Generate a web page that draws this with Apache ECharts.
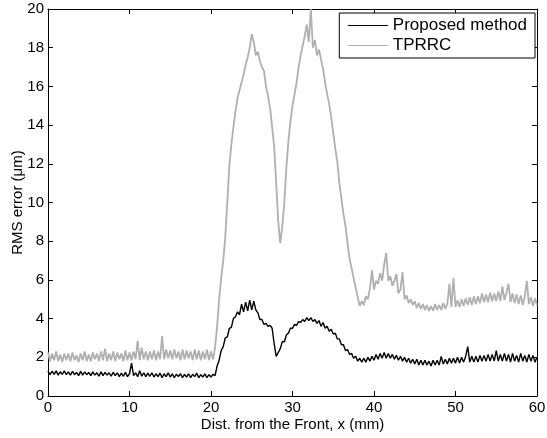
<!DOCTYPE html>
<html>
<head>
<meta charset="utf-8">
<script src="https://cdn.jsdelivr.net/npm/echarts@6/dist/echarts.min.js"></script>
<style>
html,body{margin:0;padding:0;background:#fff;}
#chart{width:547px;height:438px;}
</style>
</head>
<body>
<div id="chart"></div>
<script>
// Sampling grid along x (mm)
const xStart = 0;
const xStep = 0.25;

// RMS error (um), Proposed method at x = 0, 0.25, ..., 60
const proposed = [
1.3,1.1,1.28,1.12,1.3,1.08,1.25,1.12,1.3,1.1,
1.25,1.08,1.28,1.1,1.22,1.05,1.27,1.08,1.25,1.1,
1.22,1.05,1.25,1.08,1.2,1.02,1.25,1.05,1.22,1.08,
1.2,1.02,1.22,1.05,1.2,1.0,1.18,1.02,1.22,1.0,
1.15,1.7,1.05,1.2,1.0,1.3,1.02,1.2,1.0,1.18,
1.02,1.2,0.98,1.15,1.0,1.18,0.95,1.15,1.0,1.2,
0.98,1.15,0.95,1.12,1.0,1.15,0.95,1.12,0.98,1.15,
0.95,1.12,1.0,1.18,0.95,1.1,0.98,1.15,0.95,1.1,
0.98,1.12,1.05,1.55,1.85,2.35,2.55,3.0,3.05,3.5,
3.55,4.0,4.1,4.35,4.2,4.75,4.35,4.85,4.4,4.95,
4.45,4.9,4.45,4.3,3.95,3.95,3.7,3.75,3.6,3.65,
3.5,2.7,2.05,2.25,2.45,2.8,2.8,3.15,3.25,3.5,
3.5,3.7,3.65,3.85,3.8,3.95,3.85,4.05,3.9,4.05,
3.85,3.95,3.75,3.9,3.6,3.8,3.5,3.6,3.35,3.45,
3.2,3.25,2.95,2.95,2.65,2.65,2.35,2.4,2.15,2.2,
1.95,2.05,1.8,1.95,1.75,1.95,1.75,2.0,1.8,2.05,
1.85,2.15,1.9,2.2,1.95,2.25,1.95,2.2,1.95,2.15,
1.9,2.1,1.85,2.05,1.8,2.0,1.75,1.95,1.7,1.9,
1.65,1.9,1.6,1.85,1.6,1.85,1.6,1.8,1.55,1.85,
1.6,1.85,1.6,2.05,1.65,1.9,1.65,1.95,1.7,1.95,
1.7,2.0,1.7,2.0,1.75,2.05,2.55,1.75,2.05,1.75,
2.05,1.75,2.1,1.8,2.1,1.8,2.15,1.8,2.15,1.8,
2.35,1.8,2.15,1.8,2.2,1.8,2.15,1.75,2.2,1.8,
2.1,1.75,2.2,1.8,2.1,1.75,2.15,1.8,2.1,1.75,
2.0
];

// RMS error (um), TPRRC at x = 0, 0.25, ..., 60
const tprrc = [
2.25,1.8,2.2,1.85,2.3,1.8,2.15,1.75,2.2,1.85,
2.2,1.8,2.25,1.85,2.1,1.75,2.2,1.85,2.3,1.8,
2.15,1.8,2.25,1.9,2.2,1.8,2.3,1.85,2.45,1.8,
2.2,1.85,2.3,1.8,2.25,1.9,2.2,1.8,2.35,1.85,
2.25,1.85,2.3,1.9,2.85,1.85,2.5,1.9,2.3,1.85,
2.3,1.9,2.35,1.85,2.3,1.9,3.1,1.9,2.4,1.95,
2.35,1.9,2.4,1.95,2.3,1.85,2.4,1.9,2.35,1.95,
2.3,1.85,2.4,1.9,2.35,1.85,2.3,1.9,2.4,1.85,
2.3,1.9,2.5,3.6,5.0,6.1,7.0,8.2,10.0,11.9,
13.0,13.9,14.7,15.4,15.8,16.2,16.6,17.1,17.5,18.0,
18.7,18.3,17.6,17.8,17.3,17.0,16.8,16.0,15.5,14.9,
13.9,12.9,11.0,9.0,7.9,8.8,10.0,11.8,13.2,14.2,
15.0,15.6,16.2,17.0,17.6,18.1,18.6,19.2,18.3,20.0,
18.0,18.4,17.6,17.9,17.4,16.9,16.2,15.6,15.1,14.4,
13.6,12.8,12.1,11.0,10.2,9.4,8.8,7.9,7.1,6.6,
6.1,5.6,5.1,4.65,4.9,4.7,5.15,5.0,5.55,6.5,
5.5,5.95,5.8,6.35,5.95,6.8,7.4,5.95,6.2,5.7,
5.95,6.3,5.3,5.5,6.4,5.0,5.2,4.8,5.0,4.7,
4.9,4.55,4.8,4.5,4.75,4.45,4.7,4.4,4.65,4.4,
4.75,4.45,4.7,4.45,4.8,4.5,4.75,5.8,4.6,6.1,
4.6,4.95,4.6,5.0,4.65,5.05,4.7,5.1,4.7,5.15,
4.75,5.15,4.8,5.3,4.85,5.25,4.85,5.35,4.9,5.3,
4.9,5.4,4.9,5.65,4.95,5.35,5.8,4.85,5.3,4.8,
5.25,4.75,5.2,4.7,5.15,5.95,4.75,5.1,4.65,5.05,
4.7
];

const seriesNames = ['Proposed method', 'TPRRC'];
const xTicks = [0, 10, 20, 30, 40, 50, 60];
const yTicks = [0, 2, 4, 6, 8, 10, 12, 14, 16, 18, 20];

function pairs(arr) {
  return arr.map((v, i) => [xStart + i * xStep, v]);
}

const FONT = 'Liberation Sans, Arial, Helvetica, sans-serif';
const chart = echarts.init(document.getElementById('chart'), null, {renderer: 'canvas'});

const axisLineStyle = {show: true, onZero: false, lineStyle: {color: '#000', width: 1}};
const tickStyle = {show: true, inside: true, length: 5, lineStyle: {color: '#000', width: 1}};

chart.setOption({
  animation: false,
  backgroundColor: '#fff',
  grid: {left: 48, right: 10, top: 9, bottom: 42, containLabel: false, outerBoundsMode: 'none'},
  legend: {
    orient: 'vertical',
    right: 12,
    top: 13,
    data: seriesNames,
    backgroundColor: '#fff',
    borderColor: '#000',
    borderWidth: 1,
    padding: [4, 8, 4, 8],
    itemGap: 3,
    itemWidth: 40,
    itemHeight: 16,
    itemStyle: {opacity: 0},
    lineStyle: {width: 1},
    textStyle: {fontFamily: FONT, fontSize: 17, color: '#000'}
  },
  xAxis: [{
    type: 'value', min: xTicks[0], max: xTicks[xTicks.length - 1], interval: 10,
    position: 'bottom',
    name: 'Dist. from the Front, x (mm)', nameLocation: 'middle', nameGap: 21,
    nameMoveOverlap: false,
    nameTextStyle: {fontFamily: FONT, fontSize: 15, color: '#000'},
    axisLine: axisLineStyle, axisTick: tickStyle,
    axisLabel: {fontFamily: FONT, fontSize: 15, color: '#000', margin: 4},
    splitLine: {show: false}
  }, {
    type: 'value', min: xTicks[0], max: xTicks[xTicks.length - 1], interval: 10,
    position: 'top',
    axisLine: axisLineStyle, axisTick: tickStyle,
    axisLabel: {show: false}, splitLine: {show: false}
  }],
  yAxis: [{
    type: 'value', min: yTicks[0], max: yTicks[yTicks.length - 1], interval: 2,
    position: 'left',
    name: 'RMS error (\u03bcm)', nameLocation: 'middle', nameGap: 23, nameRotate: 90,
    nameMoveOverlap: false,
    nameTextStyle: {fontFamily: FONT, fontSize: 15, color: '#000'},
    axisLine: axisLineStyle, axisTick: tickStyle,
    axisLabel: {fontFamily: FONT, fontSize: 15, color: '#000', margin: 4},
    splitLine: {show: false}
  }, {
    type: 'value', min: yTicks[0], max: yTicks[yTicks.length - 1], interval: 2,
    position: 'right',
    axisLine: axisLineStyle, axisTick: tickStyle,
    axisLabel: {show: false}, splitLine: {show: false}
  }],
  series: [{
    name: seriesNames[0], type: 'line', data: pairs(proposed),
    xAxisIndex: 0, yAxisIndex: 0,
    symbol: 'none', z: 3,
    lineStyle: {color: '#000', width: 1.4},
    itemStyle: {color: '#000'}
  }, {
    name: seriesNames[1], type: 'line', data: pairs(tprrc),
    xAxisIndex: 0, yAxisIndex: 0,
    symbol: 'none', z: 2,
    lineStyle: {color: '#b0b0b0', width: 1.8},
    itemStyle: {color: '#b0b0b0'}
  }]
});
</script>
</body>
</html>
